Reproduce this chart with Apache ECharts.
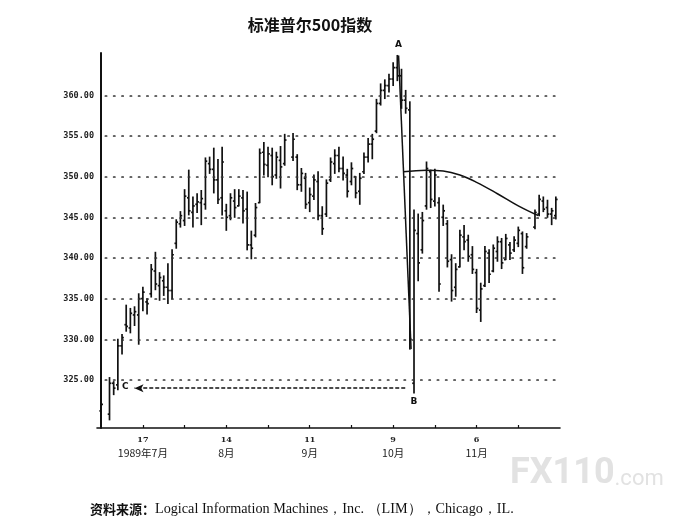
<!DOCTYPE html>
<html>
<head>
<meta charset="utf-8">
<script src="https://cdn.jsdelivr.net/npm/echarts@6/dist/echarts.min.js"></script>
<style>
html, body { margin: 0; background: #fff; }
#main { width: 694px; height: 524px; }
</style>
</head>
<body>
<div id="main"></div>
<script>
// 交易日序号：0 = 1989年7月3日，每个工作日 +1，休市日为 null
var highs = [
  322.5, null, 325.3, 324.8, 330.0, 330.6, 334.2, 333.8, 334.0, 335.6,
  336.4, 335.0, 339.2, 340.7, 338.2, 337.8, 339.3, 341.0, 344.7, 345.7,
  348.4, 350.8, 347.5, 347.9, 348.3, 352.3, 352.4, 353.5, 352.1, 353.6,
  346.6, 347.9, 348.4, 348.4, 348.3, 348.1, 343.3, 346.7, 353.4, 354.2,
  353.6, 353.5, 353.0, 353.7, 355.2, null, 355.3, 352.7, 351.0, 350.4,
  348.6, 350.2, 350.6, 346.3, 349.6, 352.3, 353.3, 353.6, 352.4, 350.9,
  351.7, 350.0, 350.4, 352.9, 354.7, 355.2, 359.5, 361.4, 361.9, 362.6,
  364.0, 364.9, 363.2, 360.6, 359.2, 345.9, 345.4, 345.6, 351.8, 350.8,
  350.9, 347.4, 346.5, 344.6, 340.4, 339.3, 343.4, 344.0, 342.8, 341.4,
  338.6, 336.9, 341.4, 341.0, 341.6, 342.6, 342.4, 342.9, 341.9, 342.6,
  343.8, 343.2, 343.0, null, 345.9, 347.7, 347.5, 347.1, 346.1, 347.5
];
var lows = [
  320.4, null, 320.1, 323.2, 323.8, 328.2, 331.0, 330.8, 331.7, 329.4,
  333.5, 333.1, 335.2, 336.1, 334.8, 335.4, 334.4, 335.0, 341.2, 343.8,
  344.0, 345.3, 343.8, 345.6, 344.1, 346.0, 350.4, 348.0, 346.7, 345.3,
  343.4, 344.7, 345.0, 346.4, 344.3, 341.0, 339.9, 342.6, 346.8, 350.2,
  350.0, 349.0, 349.8, 348.6, 351.4, null, 352.0, 348.4, 348.2, 346.1,
  345.7, 347.2, 344.7, 342.9, 345.1, 349.4, 350.4, 350.6, 349.6, 347.5,
  349.0, 347.4, 346.6, 350.4, 351.8, 352.2, 355.4, 358.8, 359.6, 360.4,
  361.2, 361.8, 358.4, 357.8, 328.8, 323.4, 337.2, 340.6, 346.0, 346.2,
  346.4, 335.9, 344.0, 338.9, 334.7, 335.3, 338.9, 341.0, 339.6, 338.1,
  333.3, 332.2, 336.5, 337.0, 338.3, 339.6, 338.7, 339.8, 339.8, 340.8,
  341.4, 338.1, 341.2, null, 343.6, 345.2, 345.7, 345.0, 344.1, 344.8
];
var opens = [
  321.2, null, 320.8, 324.6, 324.4, 329.2, 331.8, 331.4, 333.0, 333.0,
  335.0, 334.6, 335.6, 338.4, 336.6, 337.2, 336.4, 336.0, 341.8, 344.2,
  344.6, 347.4, 345.6, 346.6, 346.8, 346.6, 351.6, 350.9, 349.6, 347.4,
  345.8, 345.2, 347.0, 346.4, 347.4, 346.0, 341.6, 342.8, 346.8, 353.0,
  351.4, 352.6, 350.2, 352.0, 351.6, null, 352.4, 352.4, 349.0, 349.8,
  346.8, 347.6, 349.4, 345.2, 345.4, 349.6, 351.6, 352.6, 351.0, 350.2,
  349.4, 350.0, 348.2, 350.6, 352.4, 354.0, 355.6, 359.0, 360.6, 361.2,
  362.0, 363.4, 362.4, 359.4, 358.2, 324.6, 343.0, 341.0, 346.4, 350.6,
  347.0, 346.8, 345.0, 344.2, 339.8, 336.4, 338.9, 342.6, 342.2, 340.4,
  338.2, 333.6, 336.6, 340.6, 338.4, 340.8, 342.0, 339.8, 341.6, 341.0,
  341.8, 343.0, 341.4, null, 343.8, 345.4, 347.0, 346.2, 345.4, 345.2
];
var closes = [
  322.0, null, 324.6, 324.0, 329.2, 330.2, 331.6, 333.2, 333.4, 335.0,
  335.8, 334.4, 338.6, 336.8, 337.6, 336.4, 336.0, 340.4, 344.4, 345.2,
  347.6, 345.8, 346.4, 346.9, 347.3, 351.9, 350.9, 349.6, 347.2, 351.8,
  345.0, 347.4, 346.2, 347.6, 345.8, 341.6, 341.2, 346.2, 352.9, 351.5,
  352.8, 350.0, 352.4, 351.2, 354.5, null, 354.6, 349.0, 350.4, 346.6,
  347.8, 349.6, 345.2, 343.6, 349.2, 351.8, 352.6, 351.0, 350.4, 348.2,
  351.0, 348.0, 349.8, 352.4, 354.0, 354.6, 359.0, 360.6, 361.2, 362.0,
  363.4, 362.4, 359.4, 358.4, 330.0, 343.4, 339.4, 344.6, 351.0, 347.2,
  350.2, 336.8, 345.8, 339.6, 336.0, 338.6, 342.8, 342.0, 340.2, 338.6,
  333.8, 336.2, 340.8, 338.0, 341.2, 342.0, 339.4, 342.4, 340.6, 342.2,
  343.4, 338.8, 342.6, null, 345.6, 347.2, 346.0, 345.4, 345.8, 347.2
];

// 横轴刻度
var tickIdx = [10, 20, 30, 40, 50, 60, 70, 80, 90, 100];
var labelIdx = [10, 30, 50, 70, 90];
var labelDays = ['17', '14', '11', '9', '6'];
var labelMonths = ['1989年7月', '8月', '9月', '10月', '11月'];
// 纵轴刻度
var yTicks = [325, 330, 335, 340, 345, 350, 355, 360];

// 图上画的辅助线
var arcX = [72.4, 78, 82, 86, 90, 95, 100, 104.8];
var arcY = [350.6, 350.8, 350.7, 350.2, 349.3, 347.9, 346.4, 345.2];
var lineABx = [71.3, 74.3];
var lineABy = [364.9, 328.8];
var arrowFrom = [72.9, 324.0];
var arrowTo = [8.0, 324.0];
var pointA = [71.3, 364.9];
var pointB = [75, 322.3];
var pointC = [5.8, 324.2];

var bars = [];
for (var i = 0; i < highs.length; i++) {
  if (highs[i] == null) continue;
  bars.push([i, opens[i], closes[i], lows[i], highs[i]]);
}

function renderOHLC(params, api) {
  var x = api.value(0);
  var pO = api.coord([x, api.value(1)]);
  var pC = api.coord([x, api.value(2)]);
  var pL = api.coord([x, api.value(3)]);
  var pH = api.coord([x, api.value(4)]);
  var st = { stroke: '#111', lineWidth: 1.7 };
  return {
    type: 'group',
    children: [
      { type: 'line', shape: { x1: pH[0], y1: pH[1] - 0.5, x2: pL[0], y2: pL[1] + 0.5 }, style: st },
      { type: 'line', shape: { x1: pO[0] - 1.8, y1: pO[1], x2: pO[0], y2: pO[1] }, style: st },
      { type: 'line', shape: { x1: pC[0], y1: pC[1], x2: pC[0] + 1.8, y2: pC[1] }, style: st }
    ]
  };
}

var myChart = echarts.init(document.getElementById('main'));

var letterLabel = { show: true, position: 'inside', color: '#111', fontSize: 9, fontWeight: 'bold', fontFamily: 'DejaVu Sans' };

var option = {
  backgroundColor: '#fff',
  animation: false,
  grid: { left: 97, right: 134, top: 53, bottom: 96 },
  xAxis: {
    type: 'value',
    min: -1,
    max: 110,
    splitLine: { show: false },
    axisLine: { show: true, onZero: false, lineStyle: { color: '#111', width: 1.6 } },
    axisTick: { show: true, inside: true, length: 3, customValues: tickIdx, lineStyle: { color: '#111', width: 1.2 } },
    axisLabel: {
      customValues: labelIdx,
      margin: 5,
      formatter: function (v) {
        var k = labelIdx.indexOf(Math.round(v));
        return '{d|' + labelDays[k] + '}\n{m|' + labelMonths[k] + '}';
      },
      rich: {
        d: { fontSize: 8, fontWeight: 'bold', fontFamily: 'DejaVu Serif', color: '#222', lineHeight: 13 },
        m: { fontSize: 10.5, fontFamily: 'Noto Sans CJK SC', color: '#222', lineHeight: 15 }
      }
    }
  },
  yAxis: {
    type: 'value',
    min: 319.1,
    max: 365.2,
    splitLine: { show: false },
    axisLine: { show: true, lineStyle: { color: '#111', width: 2 } },
    axisTick: { show: false },
    axisLabel: {
      customValues: yTicks,
      margin: 3,
      formatter: function (v) { return v.toFixed(2); },
      fontFamily: 'DejaVu Sans Mono',
      fontWeight: 'bold',
      fontSize: 8.5,
      color: '#222'
    }
  },
  series: [
    {
      name: '标准普尔500',
      type: 'custom',
      renderItem: renderOHLC,
      encode: { x: 0, y: [1, 2, 3, 4] },
      data: bars,
      markLine: {
        silent: true,
        symbol: ['none', 'none'],
        label: { show: false },
        lineStyle: { type: [1.3, 7], width: 1.7, color: '#333', cap: 'round' },
        data: yTicks.map(function (v) { return [{ coord: [1, v] }, { coord: [110, v] }]; })
      }
    },
    {
      name: 'AB',
      type: 'line',
      symbol: 'none',
      lineStyle: { color: '#111', width: 1.5 },
      data: lineABx.map(function (x, k) { return [x, lineABy[k]]; }),
      markPoint: {
        symbol: 'circle',
        symbolSize: 0,
        data: [
          { coord: pointA, label: Object.assign({ formatter: 'A', offset: [0, -11] }, letterLabel) },
          { coord: pointB, label: Object.assign({ formatter: 'B', offset: [0, 0] }, letterLabel) },
          { coord: pointC, label: Object.assign({ formatter: 'C', offset: [0, 0] }, letterLabel) }
        ]
      }
    },
    {
      name: '弧线',
      type: 'line',
      smooth: 0.4,
      symbol: 'none',
      lineStyle: { color: '#111', width: 1.5 },
      data: arcX.map(function (x, k) { return [x, arcY[k]]; }),
      markLine: {
        silent: true,
        symbol: ['none', 'arrow'],
        symbolSize: [6, 9],
        label: { show: false },
        lineStyle: { type: [4, 2], width: 1.5, color: '#111' },
        data: [[{ coord: arrowFrom }, { coord: arrowTo }]]
      }
    }
  ],
  graphic: [
    {
      type: 'text',
      x: 310, y: 25,
      style: {
        text: '标准普尔500指数',
        align: 'center', verticalAlign: 'middle',
        font: 'bold 16px "Noto Sans CJK SC"',
        fill: '#111'
      }
    },
    {
      type: 'text',
      x: 510, y: 474,
      style: {
        text: '{a|FX110}{b|.com}',
        verticalAlign: 'middle',
        fill: '#e2e2e2',
        rich: {
          a: { fontSize: 36, fontWeight: 'bold', fontFamily: 'Roboto', fill: '#e2e2e2' },
          b: { fontSize: 22, fontFamily: 'Roboto', fill: '#e2e2e2', padding: [10, 0, 0, 0] }
        }
      }
    },
    {
      type: 'text',
      x: 90, y: 509,
      style: {
        text: '{a|资料来源：}{b|Logical Information Machines，Inc. （LIM），Chicago，IL.}',
        verticalAlign: 'middle',
        rich: {
          a: { fontSize: 13, fontWeight: 'bold', fontFamily: 'Noto Sans CJK SC', fill: '#111' },
          b: { fontSize: 14.2, fontFamily: 'Liberation Serif', fill: '#111' }
        }
      }
    }
  ]
};

myChart.setOption(option);
</script>
</body>
</html>
